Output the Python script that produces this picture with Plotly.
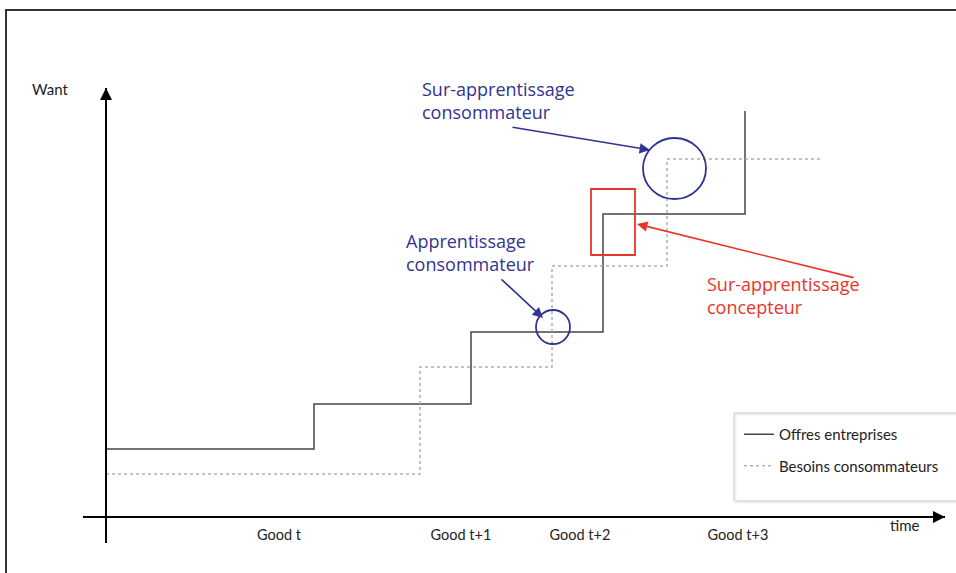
import plotly.graph_objects as go

W, H = 956, 573

# --- data (x: time units from origin, y: want units above the time axis) ---
offres_x = [0, 208, 365, 497, 639]
offres_y = [68, 113, 185, 303, 406]
besoins_x = [0, 314, 446, 561, 716]
besoins_y = [43, 150, 251, 358, 358]

tick_vals = [173, 355, 474, 632]
tick_text = ["Good t", "Good t+1", "Good t+2", "Good t+3"]

series_names = ["Offres entreprises", "Besoins consommateurs"]

# axis extents (data units)
X_MIN, X_MAX = -23, 839
Y_MIN, Y_MAX = -26, 429

BLUE = "#2f3590"
RED = "#e8352a"
TXT_FONT = "Open Sans"

fig = go.Figure()
fig.add_trace(go.Scatter(x=offres_x, y=offres_y, mode="lines", line_shape="hv",
                         line=dict(color="#454545", width=1.5), name=series_names[0],
                         legendgroup="a"))
fig.add_trace(go.Scatter(x=besoins_x, y=besoins_y, mode="lines", line_shape="hv",
                         line=dict(color="#b0b0b0", width=1.5, dash="dot"), name=series_names[1],
                         legendgroup="b"))

def px_x(p):
    return p / W

def px_y(p):
    return (H - p) / H

shapes = [
    # outer frame
    dict(type="rect", xref="paper", yref="paper", x0=px_x(6), x1=px_x(990), y0=px_y(610), y1=px_y(10),
         line=dict(color="#333333", width=2)),
    # legend box shadow + box
    dict(type="rect", xref="paper", yref="paper", x0=px_x(735.5), x1=px_x(990), y0=px_y(502.5), y1=px_y(414.5),
         line=dict(color="#ececec", width=1.5)),
    dict(type="rect", xref="paper", yref="paper", x0=px_x(734), x1=px_x(990), y0=px_y(501), y1=px_y(413),
         line=dict(color="#c4c4c4", width=1), fillcolor="white", layer="below"),
    # circles and rectangle
    dict(type="circle", xref="x", yref="y", x0=430, x1=464, y0=173, y1=207,
         line=dict(color=BLUE, width=1.8)),
    dict(type="circle", xref="x", yref="y", x0=537, x1=600, y0=318, y1=379,
         line=dict(color=BLUE, width=1.8)),
    dict(type="rect", xref="x", yref="y", x0=485, x1=529, y0=262, y1=328,
         line=dict(color=RED, width=1.8)),
]

annotations = [
    # axis arrowheads
    dict(x=0, y=Y_MAX, ax=0, ay=Y_MAX - 40, xref="x", yref="y", axref="x", ayref="y",
         text="", showarrow=True, arrowhead=2, arrowsize=1.2, arrowwidth=2, arrowcolor="black"),
    dict(x=X_MAX, y=0, ax=X_MAX - 40, ay=0, xref="x", yref="y", axref="x", ayref="y",
         text="", showarrow=True, arrowhead=2, arrowsize=1.2, arrowwidth=2, arrowcolor="black"),
    # axis titles
    dict(x=px_x(30), y=px_y(89), xref="paper", yref="paper", xanchor="left", yanchor="middle",
         text="Want", showarrow=False, font=dict(family="Lato", size=15, color="#222")),
    dict(x=px_x(905), y=px_y(525), xref="paper", yref="paper", xanchor="center", yanchor="middle",
         text="time", showarrow=False, font=dict(family="Lato", size=15, color="#222")),
    # callout texts
    dict(x=px_x(420), y=px_y(101), xref="paper", yref="paper", xanchor="left", yanchor="middle",
         text="Sur-apprentissage<br>consommateur", align="left", showarrow=False,
         font=dict(family=TXT_FONT, size=18, color=BLUE)),
    dict(x=px_x(404), y=px_y(252), xref="paper", yref="paper", xanchor="left", yanchor="middle",
         text="Apprentissage<br>consommateur", align="left", showarrow=False,
         font=dict(family=TXT_FONT, size=18, color=BLUE)),
    dict(x=px_x(705), y=px_y(295), xref="paper", yref="paper", xanchor="left", yanchor="middle",
         text="Sur-apprentissage<br>concepteur", align="left", showarrow=False,
         font=dict(family=TXT_FONT, size=18, color=RED)),
    # callout arrows
    dict(x=437, y=199, ax=394, ay=239, xref="x", yref="y", axref="x", ayref="y",
         text="", showarrow=True, arrowhead=2, arrowsize=1.3, arrowwidth=1.6, arrowcolor=BLUE),
    dict(x=544, y=367, ax=405, ay=390, xref="x", yref="y", axref="x", ayref="y",
         text="", showarrow=True, arrowhead=2, arrowsize=1.3, arrowwidth=1.6, arrowcolor=BLUE),
    dict(x=531, y=293, ax=749, ay=239, xref="x", yref="y", axref="x", ayref="y",
         text="", showarrow=True, arrowhead=2, arrowsize=1.3, arrowwidth=1.6, arrowcolor=RED),
]

fig.update_layout(
    width=W, height=H,
    margin=dict(l=0, r=0, t=0, b=0),
    paper_bgcolor="white", plot_bgcolor="rgba(0,0,0,0)",
    shapes=shapes, annotations=annotations,
    showlegend=True,
    legend=dict(x=px_x(739), y=px_y(418), xanchor="left", yanchor="top",
                bgcolor="rgba(0,0,0,0)", borderwidth=0,
                font=dict(family="Lato", size=15, color="#222"),
                tracegroupgap=9, traceorder="grouped", itemwidth=30),
    xaxis=dict(domain=[px_x(83), px_x(945)], range=[X_MIN, X_MAX], anchor="free",
               position=px_y(517), showline=True, linecolor="black", linewidth=2,
               showgrid=False, zeroline=False, tickvals=tick_vals, ticktext=tick_text,
               ticks="outside", ticklen=5, tickcolor="rgba(0,0,0,0)",
               tickfont=dict(family="Lato", size=14.5, color="#222")),
    yaxis=dict(domain=[px_y(543), px_y(88)], range=[Y_MIN, Y_MAX], anchor="free",
               position=px_x(106), showline=True, linecolor="black", linewidth=2,
               showgrid=False, zeroline=False, showticklabels=False, ticks=""),
)

fig.write_html("out.html", config={"displayModeBar": False},
               post_script="document.body.style.margin='0px';")
